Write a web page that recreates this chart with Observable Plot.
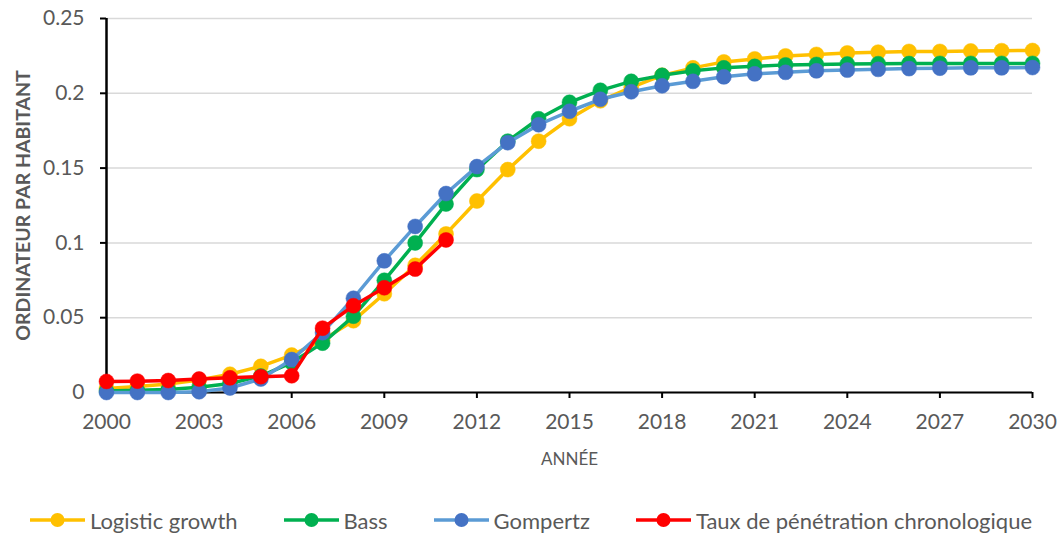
<!DOCTYPE html>
<html>
<head>
<meta charset="utf-8">
<script src="https://cdn.jsdelivr.net/npm/d3@7"></script>
<script src="https://cdn.jsdelivr.net/npm/@observablehq/plot@0.6"></script>
<style>
  html, body { margin: 0; padding: 0; background: #fff; }
  #wrap { width: 1062px; height: 534px; position: relative; font-family: Lato, "Open Sans", sans-serif; }
  #legend { display: flex; justify-content: center; align-items: center; gap: 46px; height: 40px; margin-top: 20px; color: #595959; font-size: 22px; }
  .item { display: flex; align-items: center; gap: 5px; }
</style>
</head>
<body>
<div id="wrap">
  <div id="chart"></div>
  <div id="legend"></div>
</div>
<script>
const years = [2000,2001,2002,2003,2004,2005,2006,2007,2008,2009,2010,2011,2012,2013,2014,2015,2016,2017,2018,2019,2020,2021,2022,2023,2024,2025,2026,2027,2028,2029,2030];
const logistic = [0.0027,0.004,0.0057,0.0083,0.0122,0.0175,0.025,0.035,0.048,0.066,0.085,0.106,0.128,0.149,0.168,0.183,0.195,0.204,0.212,0.217,0.221,0.223,0.225,0.226,0.227,0.2275,0.228,0.228,0.2283,0.2285,0.2286];
const bass = [0.001,0.0015,0.002,0.0035,0.006,0.011,0.02,0.033,0.051,0.075,0.1,0.126,0.149,0.168,0.183,0.194,0.202,0.208,0.212,0.215,0.217,0.218,0.219,0.2193,0.2196,0.2198,0.2199,0.22,0.22,0.22,0.22];
const gompertz = [0,0,0,0.0005,0.003,0.009,0.022,0.04,0.063,0.088,0.111,0.133,0.151,0.167,0.179,0.188,0.196,0.201,0.205,0.208,0.211,0.213,0.214,0.215,0.2155,0.216,0.2165,0.2168,0.217,0.217,0.2172];
const taux = [0.0074,0.0076,0.008,0.009,0.0098,0.0106,0.0112,0.043,0.058,0.07,0.0825,0.102];
const seriesNames = ["Logistic growth", "Bass", "Gompertz", "Taux de pénétration chronologique"];
const xTicks = [2000,2003,2006,2009,2012,2015,2018,2021,2024,2027,2030];
const yTicks = [0,0.05,0.1,0.15,0.2,0.25];

const lineColors = ["#FFC000", "#00B050", "#5B9BD5", "#FF0000"];
const dotColors = ["#FFC000", "#00B050", "#4472C4", "#FF0000"];
const seriesValues = [logistic, bass, gompertz, taux];

const seriesData = seriesValues.map((vals, i) =>
  vals.map((v, j) => ({year: years[j], value: v, name: seriesNames[i]})));

const marks = [
  Plot.gridY(yTicks, {stroke: "#d9d9d9", strokeOpacity: 1, strokeWidth: 1.5}),
  Plot.axisY(yTicks, {tickSize: 6, tickPadding: 16, stroke: "black", strokeWidth: 2, color: "#595959", fontSize: 21, tickFormat: d => String(+d.toFixed(2)), label: null}),
  Plot.axisY({ticks: [], tickSize: 0, label: "ORDINATEUR PAR HABITANT", labelArrow: "none", labelAnchor: "center", labelOffset: 90, fontSize: 19.5, fontWeight: "bold", color: "#595959"}),
  Plot.axisX(xTicks, {tickSize: 6, tickPadding: 16, stroke: "black", strokeWidth: 2, color: "#595959", fontSize: 21, tickFormat: d => String(d), label: null}),
  Plot.axisX({ticks: [], tickSize: 0, label: "ANNÉE", labelArrow: "none", labelAnchor: "center", labelOffset: 72, fontSize: 17, color: "#595959"}),
  Plot.ruleY([0], {stroke: "black", strokeWidth: 2}),
  Plot.ruleX([2000], {stroke: "black", strokeWidth: 2.5})
];
seriesData.forEach((d, i) => {
  marks.push(Plot.line(d, {x: "year", y: "value", stroke: lineColors[i], strokeWidth: 3.5, strokeLinejoin: "round"}));
  marks.push(Plot.dot(d, {x: "year", y: "value", r: 7.5, fill: dotColors[i], stroke: dotColors[i], strokeWidth: 0.5}));
});

const chart = Plot.plot({
  width: 1062,
  height: 480,
  marginTop: 18,
  marginBottom: 88,
  marginLeft: 106,
  marginRight: 30,
  style: {fontFamily: "Lato, 'Open Sans', sans-serif", background: "#fff", overflow: "visible"},
  x: {domain: [2000, 2030], type: "linear"},
  y: {domain: [0, 0.25]},
  marks
});
document.getElementById("chart").appendChild(chart);

const legend = document.getElementById("legend");
seriesNames.forEach((name, i) => {
  const item = document.createElement("div");
  item.className = "item";
  item.innerHTML = `<svg width="55" height="16"><line x1="0" x2="55" y1="8" y2="8" stroke="${lineColors[i]}" stroke-width="3.5"/><circle cx="27.5" cy="8" r="7" fill="${dotColors[i]}"/></svg><span>${name}</span>`;
  legend.appendChild(item);
});
</script>
</body>
</html>
